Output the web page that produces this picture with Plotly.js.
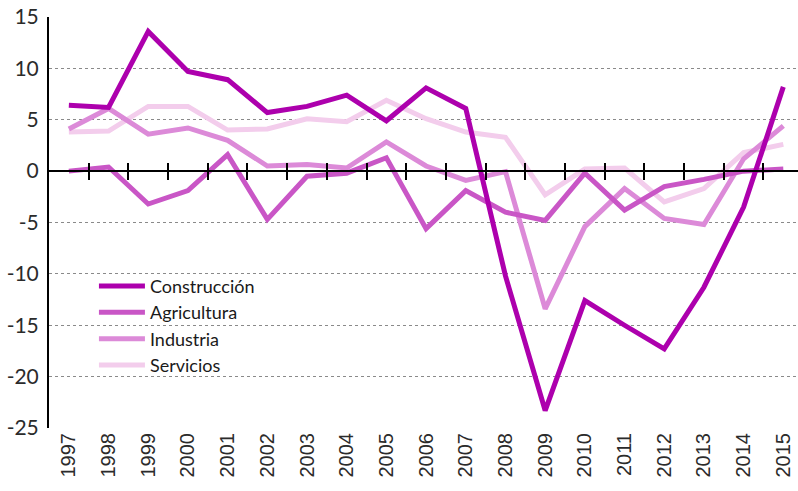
<!DOCTYPE html>
<html>
<head>
<meta charset="utf-8">
<script src="https://cdn.plot.ly/plotly-3.0.1.min.js"></script>
<style>
  html, body { margin: 0; padding: 0; background: #fff; }
  #chart { width: 798px; height: 491px; }
</style>
</head>
<body>
<div id="chart"></div>
<script>
const years = ["1997","1998","1999","2000","2001","2002","2003","2004","2005","2006","2007","2008","2009","2010","2011","2012","2013","2014","2015"];
const construccion = [6.4, 6.2, 13.6, 9.7, 8.9, 5.7, 6.3, 7.4, 4.9, 8.1, 6.1, -10.2, -23.3, -12.6, -15.0, -17.3, -11.3, -3.5, 8.2];
const agricultura = [0.0, 0.4, -3.2, -1.9, 1.6, -4.7, -0.5, -0.2, 1.3, -5.6, -1.9, -4.0, -4.8, -0.2, -3.8, -1.5, -0.8, 0.0, 0.2];
const industria = [4.1, 6.1, 3.6, 4.2, 3.0, 0.5, 0.65, 0.3, 2.85, 0.5, -0.9, -0.05, -13.4, -5.4, -1.7, -4.6, -5.2, 1.2, 4.4];
const servicios = [3.8, 3.9, 6.3, 6.3, 4.0, 4.1, 5.1, 4.8, 6.9, 5.1, 3.8, 3.3, -2.3, 0.2, 0.3, -3.0, -1.7, 1.8, 2.6];
const names = ["Construcción", "Agricultura", "Industria", "Servicios"];
const colors = ["#ad00ad", "#c956c6", "#dc8ad8", "#f3cdec"];
const yTickVals = [15, 10, 5, 0, -5, -10, -15, -20, -25];
const yTickText = ["15", "10", "5", "0", "-5", "-10", "-15", "-20", "-25"];

const series = [construccion, agricultura, industria, servicios];
const traces = [];
for (let i = series.length - 1; i >= 0; i--) {
  traces.push({
    type: "scatter", mode: "lines", name: names[i],
    x: years, y: series[i],
    line: { color: colors[i], width: 5 },
    xaxis: "x", yaxis: "y"
  });
}
// helper invisible traces so the zero-line axes exist
traces.push({ type: "scatter", x: [], y: [], xaxis: "x2", yaxis: "y", showlegend: false, hoverinfo: "skip" });
traces.push({ type: "scatter", x: [], y: [], xaxis: "x3", yaxis: "y", showlegend: false, hoverinfo: "skip" });

const xr = [-0.5, 18.37];
const boundaries = years.map((_, i) => i + 0.5);
const zeroPos = 25 / 40;

const layout = {
  width: 798, height: 491,
  margin: { l: 49, r: 0, t: 17, b: 63 },
  paper_bgcolor: "#ffffff", plot_bgcolor: "#ffffff",
  showlegend: true,
  legend: {
    x: 0.06, y: 0.39, xanchor: "left", yanchor: "top",
    traceorder: "reversed",
    bgcolor: "rgba(0,0,0,0)",
    font: { family: "Lato, 'Open Sans', sans-serif", size: 18, color: "#1a1a1a" },
    itemwidth: 46
  },
  xaxis: {
    type: "category", range: xr, showgrid: false, zeroline: false, showline: false,
    ticks: "", tickangle: -90,
    tickfont: { family: "'Liberation Sans', Arial, sans-serif", size: 20, color: "#2b2b2b" }
  },
  xaxis2: {
    type: "linear", overlaying: "x", anchor: "free", position: zeroPos, range: xr,
    showgrid: false, zeroline: false, showline: true, linecolor: "#000", linewidth: 2,
    tickmode: "array", tickvals: boundaries, ticks: "outside", ticklen: 8, tickwidth: 2, tickcolor: "#000",
    showticklabels: false
  },
  xaxis3: {
    type: "linear", overlaying: "x", anchor: "free", position: zeroPos, range: xr,
    showgrid: false, zeroline: false, showline: false,
    tickmode: "array", tickvals: boundaries, ticks: "inside", ticklen: 8, tickwidth: 2, tickcolor: "#000",
    showticklabels: false
  },
  yaxis: {
    range: [-25, 15], tickmode: "array", tickvals: yTickVals, ticktext: yTickText,
    showgrid: true, gridcolor: "#8a8a8a", griddash: "dot", gridwidth: 1,
    zeroline: false, showline: true, linecolor: "#000", linewidth: 2,
    ticks: "", ticklabelstandoff: 4,
    tickfont: { family: "Lato, 'Open Sans', sans-serif", size: 21, color: "#2b2b2b" }
  }
};

Plotly.newPlot("chart", traces, layout, { displayModeBar: false, staticPlot: true });
</script>
</body>
</html>
